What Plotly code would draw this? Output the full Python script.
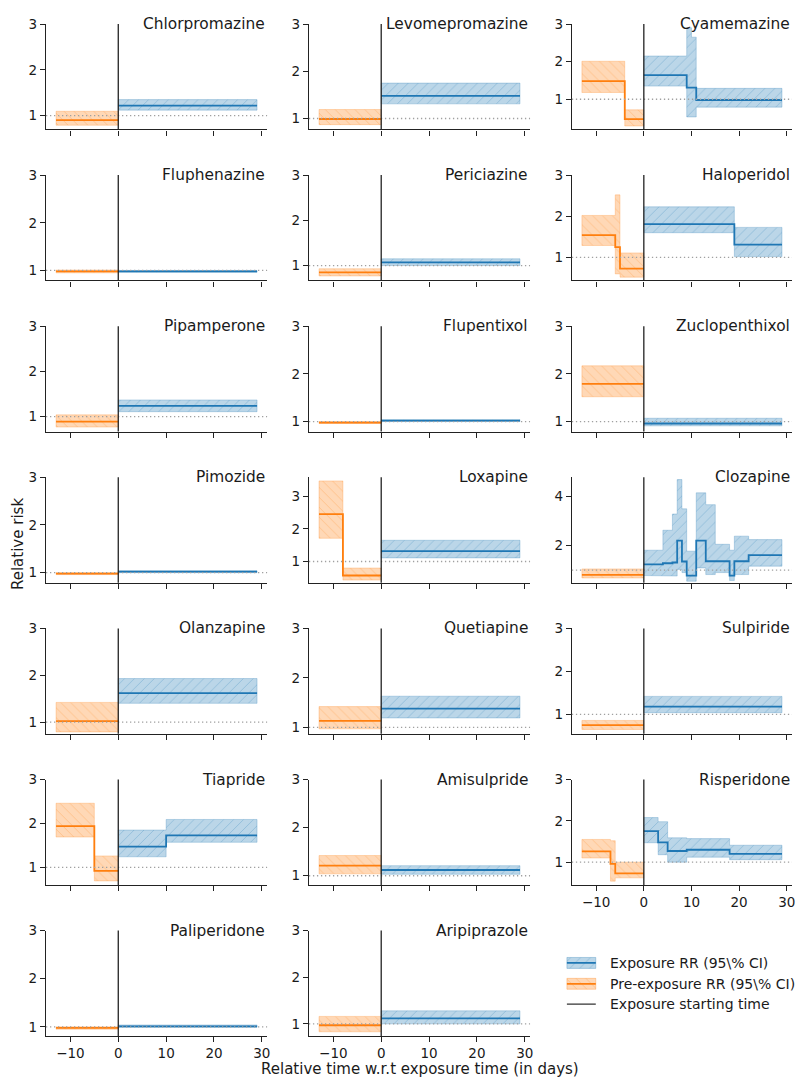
import plotly.graph_objects as go

# ---------------- data ----------------
DRUGS = ["Chlorpromazine", "Levomepromazine", "Cyamemazine",
         "Fluphenazine", "Periciazine", "Haloperidol",
         "Pipamperone", "Flupentixol", "Zuclopenthixol",
         "Pimozide", "Loxapine", "Clozapine",
         "Olanzapine", "Quetiapine", "Sulpiride",
         "Tiapride", "Amisulpride", "Risperidone",
         "Paliperidone", "Aripiprazole"]

# pre-exposure step segments (edges in days, RR and 95% CI per segment)
PRE_EDGES = [[-13, 0], [-13, 0], [-13, -4, 0],
             [-13, 0], [-13, 0], [-13, -6, -5, 0],
             [-13, 0], [-13, 0], [-13, 0],
             [-13, 0], [-13, -8, 0], [-13, 0],
             [-13, 0], [-13, 0], [-13, 0],
             [-13, -5, 0], [-13, 0], [-13, -7, -6, 0],
             [-13, 0], [-13, 0]]
PRE_RR = [[0.90], [0.99], [1.48, 0.47],
          [0.98], [0.85], [1.54, 1.25, 0.73],
          [0.89], [0.98], [1.79],
          [0.98], [2.45, 0.57], [0.81],
          [1.02], [1.13], [0.75],
          [1.94, 0.92], [1.21], [1.26, 0.96, 0.73],
          [0.98], [0.97]]
PRE_LO = [[0.79], [0.87], [1.18, 0.29],
          [0.95], [0.77], [1.29, 0.60, 0.52],
          [0.77], [0.96], [1.52],
          [0.96], [1.71, 0.43], [0.68],
          [0.79], [0.97], [0.65],
          [1.69, 0.69], [1.04], [1.10, 0.54, 0.62],
          [0.95], [0.83]]
PRE_HI = [[1.095], [1.19], [2.01, 0.72],
          [1.01], [0.93], [2.02, 2.52, 1.11],
          [1.04], [1.00], [2.17],
          [1.00], [3.47, 0.80], [1.05],
          [1.42], [1.42], [0.86],
          [2.46, 1.26], [1.42], [1.55, 1.52, 1.00],
          [1.00], [1.16]]

# exposure step segments
POST_EDGES = [[0, 29], [0, 29], [0, 9, 10, 11, 29],
              [0, 29], [0, 29], [0, 19, 29],
              [0, 29], [0, 29], [0, 29],
              [0, 29], [0, 29], [0, 4, 6, 7, 8, 9, 11, 13, 15, 18, 19, 22, 29],
              [0, 29], [0, 29], [0, 29],
              [0, 10, 29], [0, 29], [0, 3, 5, 9, 18, 29],
              [0, 29], [0, 29]]
POST_RR = [[1.22], [1.48], [1.64, 1.31, 1.31, 0.98],
           [0.98], [1.07], [1.81, 1.31],
           [1.24], [1.02], [0.96],
           [1.02], [1.32], [1.23, 1.28, 1.31, 2.20, 1.35, 0.78, 2.20, 1.36, 1.36, 0.78, 1.36, 1.61],
           [1.62], [1.38], [1.18],
           [1.47, 1.73], [1.12], [1.75, 1.48, 1.27, 1.30, 1.20],
           [1.01], [1.12]]
POST_LO = [[1.12], [1.31], [1.35, 0.53, 0.53, 0.79],
           [0.96], [1.00], [1.60, 1.02],
           [1.11], [1.00], [0.91],
           [1.00], [1.11], [0.78, 0.76, 0.76, 1.03, 0.90, 0.55, 1.09, 0.82, 0.90, 0.58, 0.82, 1.16],
           [1.40], [1.19], [1.04],
           [1.24, 1.57], [1.03], [1.47, 1.18, 1.00, 1.12, 1.06],
           [0.99], [1.00]]
POST_HI = [[1.35], [1.75], [2.15, 2.90, 2.65, 1.29],
           [1.00], [1.15], [2.23, 1.73],
           [1.37], [1.04], [1.07],
           [1.04], [1.65], [1.81, 2.62, 3.28, 4.68, 3.49, 1.77, 4.14, 3.66, 2.05, 1.81, 2.38, 2.24],
           [1.93], [1.63], [1.42],
           [1.85, 2.09], [1.21], [2.08, 1.98, 1.59, 1.57, 1.41],
           [1.04], [1.28]]

X_TICKS = [-10, 0, 10, 20, 30]
Y_TICKS = [[1, 2, 3]] * 11 + [[2, 4]] + [[1, 2, 3]] * 8
LEGEND_LABELS = ["Exposure RR (95\\% CI)", "Pre-exposure RR (95\\% CI)", "Exposure starting time"]
X_LABEL = "Relative time w.r.t exposure time (in days)"
Y_LABEL = "Relative risk"

# ---------------- axis settings / style ----------------
Y_RANGE = [[0.70, 3.0], [0.77, 3.0], [0.20, 3.0],
           [0.79, 3.0], [0.67, 3.0], [0.44, 3.0],
           [0.67, 3.0], [0.79, 3.0], [0.79, 3.0],
           [0.79, 3.0], [0.35, 3.58], [0.49, 4.77],
           [0.75, 3.0], [0.87, 3.0], [0.55, 3.0],
           [0.60, 3.0], [0.81, 3.0], [0.45, 3.0],
           [0.81, 3.0], [0.74, 3.0]]
X_RANGE = [-15.1, 31.1]

BLUE = "#1f77b4"
ORANGE = "#ff7f0e"
BLUE_FILL = "rgba(31,119,180,0.30)"
ORANGE_FILL = "rgba(255,127,14,0.30)"
BLUE_HATCH = "rgba(31,119,180,0.60)"
ORANGE_HATCH = "rgba(255,127,14,0.60)"
FONT = "DejaVu Sans"
TXT = "#1a1a1a"

# page offset: the html body has an 8px margin
OFF = 8
PAGE_W, PAGE_H = 803, 1078
W, H = PAGE_W - OFF, PAGE_H - OFF
# plot area in page pixels
PX0, PX1, PY0, PY1 = 46, 795, 18, 1036
ML, MR, MT, MB = PX0 - OFF, (OFF + W) - PX1, PY0 - OFF, (OFF + H) - PY1
PW, PH = PX1 - PX0, PY1 - PY0
COL_LEFT = [46, 310, 574]
PANEL_W = 222
ROW_TOP0, ROW_PITCH, PANEL_H = 18, 152, 106
BOTTOM_PANELS = {17, 18, 19}


def xdom(p0, p1):
    return [max(0, (p0 - PX0) / PW), min(1, (p1 - PX0) / PW)]


def ydom(p0, p1):
    return [max(0, 1 - (p1 - PY0) / PH), min(1, 1 - (p0 - PY0) / PH)]


def band_polygon(edges, lo, hi):
    xs, ys = [], []
    for i in range(len(hi)):
        xs += [edges[i], edges[i + 1]]
        ys += [hi[i], hi[i]]
    for i in reversed(range(len(lo))):
        xs += [edges[i + 1], edges[i]]
        ys += [lo[i], lo[i]]
    xs.append(xs[0])
    ys.append(ys[0])
    return xs, ys


fig = go.Figure()
layout = dict(width=W, height=H, plot_bgcolor="white", paper_bgcolor="white",
              margin=dict(l=ML, r=MR, t=MT, b=MB, pad=0), showlegend=False,
              font=dict(family=FONT, color=TXT, size=13.5))
shapes, annotations = [], []

for k, name in enumerate(DRUGS):
    n = k + 1
    r, c = divmod(k, 3)
    xa = "x" if n == 1 else f"x{n}"
    ya = "y" if n == 1 else f"y{n}"
    top = ROW_TOP0 + r * ROW_PITCH
    left = COL_LEFT[c]
    axis_common = dict(showline=True, linecolor="#222", linewidth=1.3, ticks="outside",
                       ticklen=5, tickwidth=1.3, tickcolor="#222", showgrid=False,
                       zeroline=False, tickfont=dict(size=13.5, family=FONT, color=TXT))
    layout["xaxis" if n == 1 else f"xaxis{n}"] = dict(
        domain=xdom(left, left + PANEL_W), anchor=ya, range=X_RANGE,
        tickvals=X_TICKS, showticklabels=(k in BOTTOM_PANELS),
        ticktext=[("\u2212" + str(abs(v))) if v < 0 else str(v) for v in X_TICKS],
        **axis_common)
    layout["yaxis" if n == 1 else f"yaxis{n}"] = dict(
        domain=ydom(top, top + PANEL_H), anchor=xa, range=Y_RANGE[k],
        tickvals=Y_TICKS[k], **axis_common)

    # bands
    bx, by = band_polygon(PRE_EDGES[k], PRE_LO[k], PRE_HI[k])
    fig.add_trace(go.Scatter(x=bx, y=by, xaxis=xa, yaxis=ya, mode="lines", fill="toself",
                             fillcolor=ORANGE_FILL, line=dict(color="rgba(255,127,14,0.25)", width=1),
                             fillpattern=dict(shape="\\", fgcolor=ORANGE_HATCH, bgcolor=ORANGE_FILL,
                                              size=7, solidity=0.12),
                             hoverinfo="skip"))
    bx, by = band_polygon(POST_EDGES[k], POST_LO[k], POST_HI[k])
    fig.add_trace(go.Scatter(x=bx, y=by, xaxis=xa, yaxis=ya, mode="lines", fill="toself",
                             fillcolor=BLUE_FILL, line=dict(color="rgba(31,119,180,0.25)", width=1),
                             fillpattern=dict(shape="/", fgcolor=BLUE_HATCH, bgcolor=BLUE_FILL,
                                              size=7, solidity=0.12),
                             hoverinfo="skip"))
    # step lines
    fig.add_trace(go.Scatter(x=PRE_EDGES[k], y=PRE_RR[k] + [PRE_RR[k][-1]], xaxis=xa, yaxis=ya,
                             mode="lines", line=dict(color=ORANGE, width=1.8, shape="hv")))
    fig.add_trace(go.Scatter(x=POST_EDGES[k], y=POST_RR[k] + [POST_RR[k][-1]], xaxis=xa, yaxis=ya,
                             mode="lines", line=dict(color=BLUE, width=1.8, shape="hv")))

    # reference lines
    shapes.append(dict(type="line", xref=f"{xa} domain", yref=ya, x0=0, x1=1, y0=1, y1=1,
                       line=dict(color="#a0a0a0", width=1.3, dash="1.3px,2.7px")))
    shapes.append(dict(type="line", xref=xa, yref=f"{ya} domain", x0=0, x1=0, y0=0, y1=1,
                       line=dict(color="#222222", width=1.3)))
    annotations.append(dict(text=name, xref=f"{xa} domain", yref=f"{ya} domain", x=1, y=1,
                            xanchor="right", yanchor="middle", showarrow=False,
                            font=dict(size=15.4, family=FONT, color=TXT)))

# ---------- legend (drawn in a hidden helper axis, page-pixel coordinates) ----------
nL = len(DRUGS) + 1
layout[f"xaxis{nL}"] = dict(domain=xdom(560, 795), range=[560, 795], visible=False,
                            anchor=f"y{nL}", fixedrange=True)
layout[f"yaxis{nL}"] = dict(domain=ydom(940, 1020), range=[1020, 940], visible=False,
                            anchor=f"x{nL}", fixedrange=True)
leg_rows = [(962.5, BLUE, BLUE_FILL, BLUE_HATCH, "/"),
            (983.5, ORANGE, ORANGE_FILL, ORANGE_HATCH, "\\")]
for yc, col, fillc, hatch, shp in leg_rows:
    fig.add_trace(go.Scatter(x=[569, 598, 598, 569, 569], y=[yc - 5.5, yc - 5.5, yc + 5.5, yc + 5.5, yc - 5.5],
                             xaxis=f"x{nL}", yaxis=f"y{nL}", mode="lines", fill="toself",
                             fillcolor=fillc, line=dict(color=fillc, width=1),
                             fillpattern=dict(shape=shp, fgcolor=hatch, bgcolor=fillc, size=7, solidity=0.12),
                             hoverinfo="skip"))
    fig.add_trace(go.Scatter(x=[569, 598], y=[yc, yc], xaxis=f"x{nL}", yaxis=f"y{nL}",
                             mode="lines", line=dict(color=col, width=1.8), hoverinfo="skip"))
fig.add_trace(go.Scatter(x=[569, 598], y=[1004, 1004], xaxis=f"x{nL}", yaxis=f"y{nL}",
                         mode="lines", line=dict(color="#333333", width=1.3), hoverinfo="skip"))
for yc, lab in zip([962.5, 983.5, 1004], LEGEND_LABELS):
    annotations.append(dict(text=lab, xref=f"x{nL}", yref=f"y{nL}", x=610, y=yc,
                            xanchor="left", yanchor="middle", showarrow=False,
                            font=dict(size=14, family=FONT, color=TXT)))

# axis titles
annotations.append(dict(text=X_LABEL, xref="paper", yref="paper",
                        x=(422 - PX0) / PW, y=1 - (1069 - PY0) / PH, xanchor="center", yanchor="middle",
                        showarrow=False, font=dict(size=15, family=FONT, color=TXT)))
annotations.append(dict(text=Y_LABEL, xref="paper", yref="paper",
                        x=(18 - PX0) / PW, y=1 - (541 - PY0) / PH, xanchor="center", yanchor="middle",
                        textangle=-90, showarrow=False, font=dict(size=15, family=FONT, color=TXT)))

layout["shapes"] = shapes
layout["annotations"] = annotations
fig.update_layout(**layout)
fig.write_html("out.html")
